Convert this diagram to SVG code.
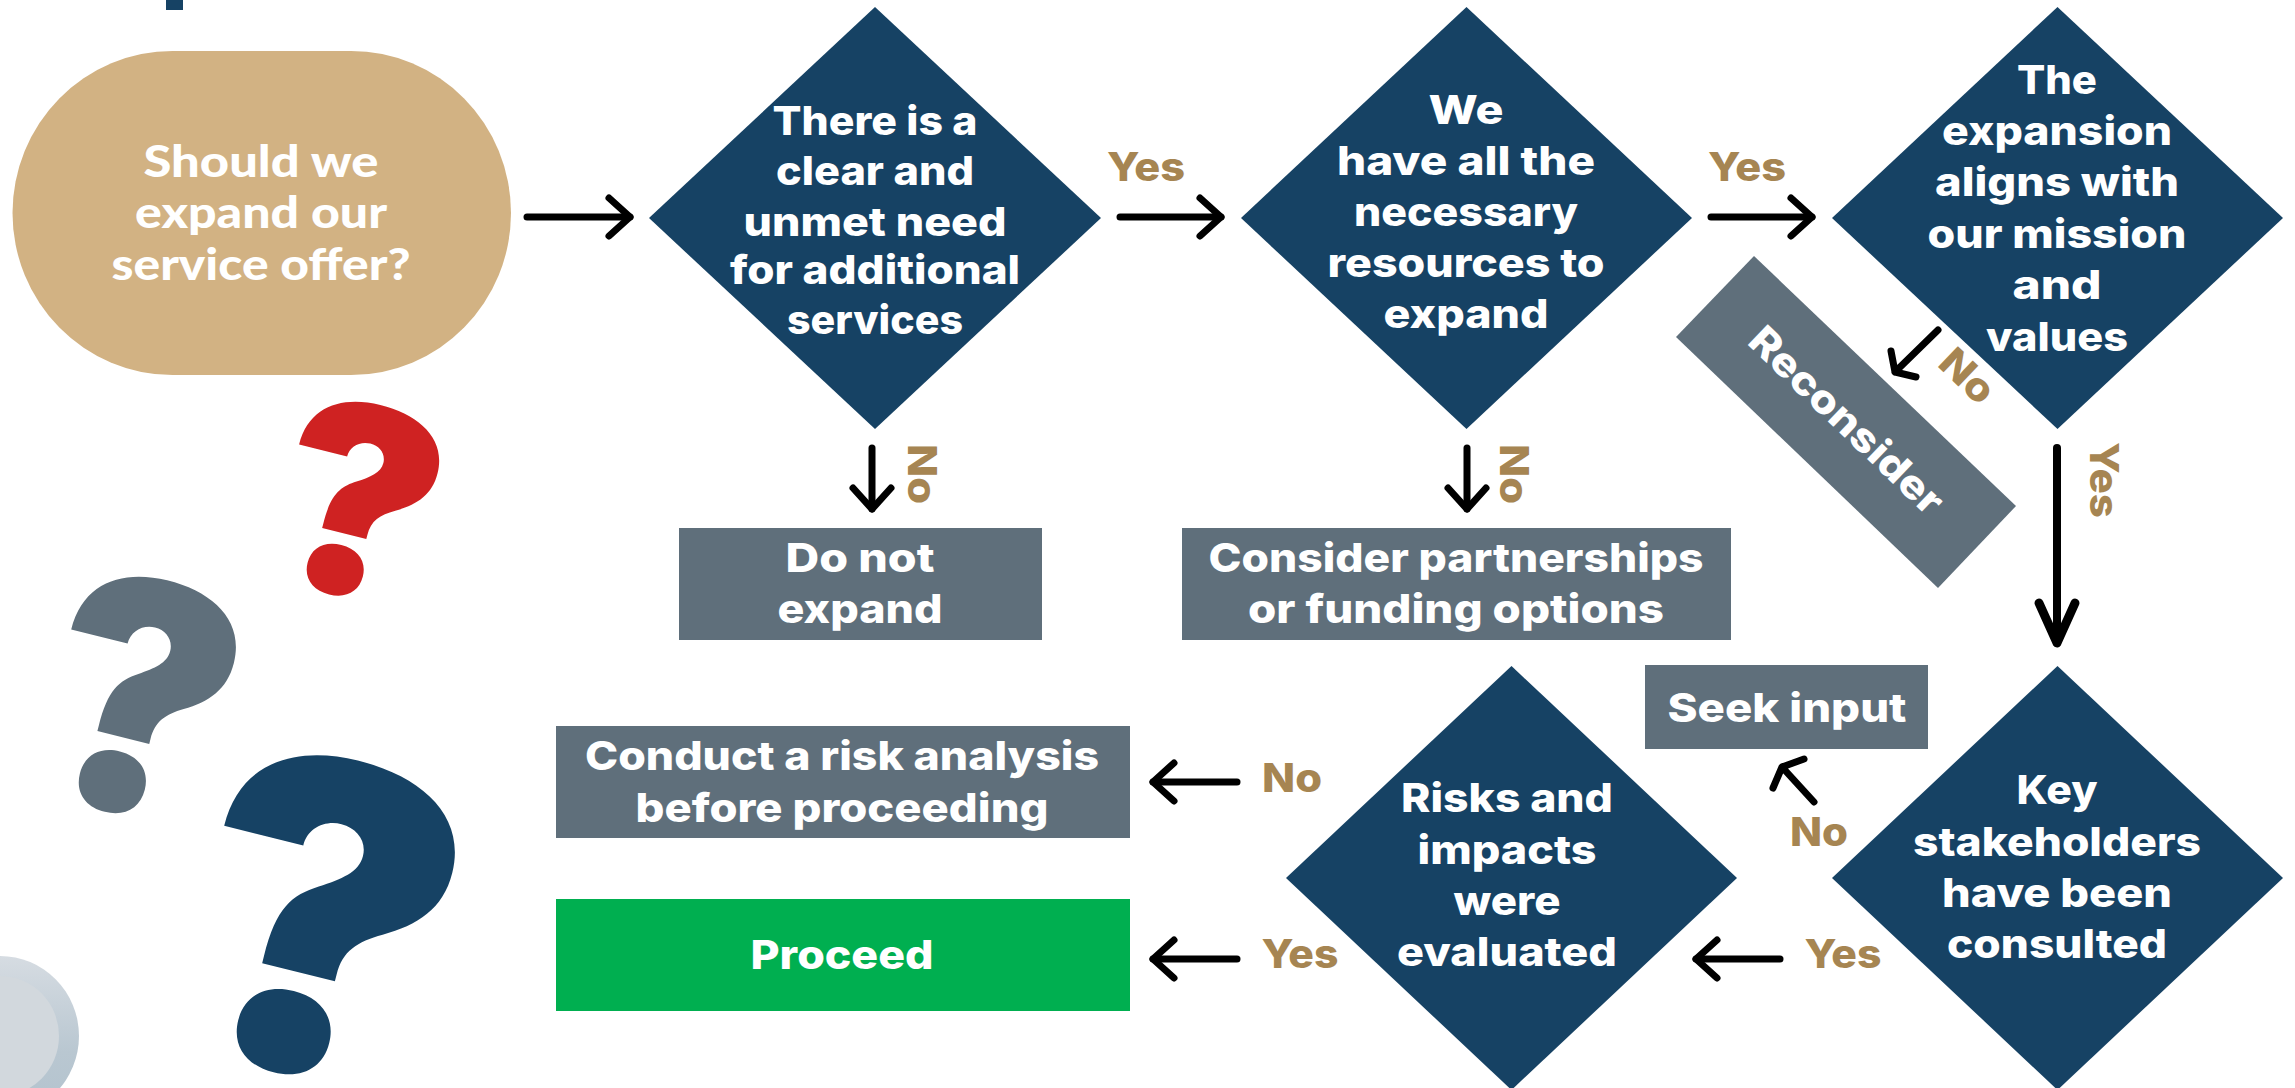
<svg xmlns="http://www.w3.org/2000/svg" width="2295" height="1088" viewBox="0 0 2295 1088">
<style>
text{font-family:"Inter","Liberation Sans",sans-serif;font-weight:800;font-size:39.5px;text-anchor:middle}
.w{fill:#fff}.o{font-family:"Lato","Liberation Sans",sans-serif;font-weight:900;font-size:43px}
.t{fill:#a68552}.dia{fill:#164264}.box{fill:#5f6f7b}
.q{font-family:"Inter","Liberation Sans",sans-serif;font-weight:900}
.c{fill:none;stroke:#000;stroke-width:7;stroke-linecap:round;stroke-linejoin:round}
.mh{fill:none;stroke:#000;stroke-width:7;stroke-linecap:round;stroke-linejoin:round}
</style>
<defs>
<marker id="arr" markerUnits="userSpaceOnUse" viewBox="-45 -30 55 60" markerWidth="55" markerHeight="60" refX="0" refY="0" orient="auto"><path class="mh" d="M-21,-19L0,0L-21,19"/></marker>
<marker id="arr-l" markerUnits="userSpaceOnUse" viewBox="-50 -30 60 60" markerWidth="60" markerHeight="60" refX="0" refY="0" orient="auto"><path class="mh" style="stroke-width:9" d="M-40,-18L0,0L-40,18"/></marker>
<linearGradient id="ring" x1="0" y1="0" x2="0" y2="1"><stop offset="0" stop-color="#d6dce2"/><stop offset=".6" stop-color="#b9c7d1"/><stop offset="1" stop-color="#b3c3ce"/></linearGradient>
</defs>
<rect x="0" width="2295" height="1088" fill="#fff"/>
<rect x="166" y="0" width="17" height="10" fill="#164264"/>
<g id="decor">
<ellipse cx="0" cy="1036" rx="79" ry="80" fill="url(#ring)"/>
<ellipse cx="0" cy="1036" rx="59" ry="60" fill="#d2d8dd"/>
<text class="q" fill="#cf2222" transform="translate(336 593) rotate(14) scale(1.04 1)" style="font-size:262px">?</text>
<text class="q" fill="#5f6f7b" transform="translate(113 810) rotate(14)" style="font-size:320px">?</text>
<text class="q" fill="#164264" transform="translate(285 1070) rotate(14) scale(1.02 .98)" style="font-size:440px">?</text>
</g>
<g id="connectors">
<path class="c" marker-end="url(#arr)" d="M527,217H630"/>
<path class="c" marker-end="url(#arr)" d="M1120,217H1221"/>
<path class="c" marker-end="url(#arr)" d="M1711,217H1812"/>
<path class="c" marker-end="url(#arr)" d="M872,448V509"/>
<path class="c" marker-end="url(#arr)" d="M1467,448V509"/>
<path class="c" style="stroke-width:8" marker-end="url(#arr-l)" d="M2057,448V643"/>
<path class="c" d="M1938,330L1895,372M1891,351L1895,372L1916,377"/>
<path class="c" d="M1814,802L1782,767M1773,788L1782,767L1804,759"/>
<path class="c" marker-end="url(#arr)" d="M1780,959H1696"/>
<path class="c" marker-end="url(#arr)" d="M1237,782H1153"/>
<path class="c" marker-end="url(#arr)" d="M1237,959H1153"/>
</g>
<g id="n-start"><rect x="12.5" y="51" width="498.5" height="324" rx="160" ry="162" fill="#d2b283"/>
<text class="w o" x="261" y="177" textLength="235" lengthAdjust="spacingAndGlyphs">Should we</text>
<text class="w o" x="261" y="228" textLength="252" lengthAdjust="spacingAndGlyphs">expand our</text>
<text class="w o" x="261" y="280" textLength="299" lengthAdjust="spacingAndGlyphs">service offer?</text></g>
<g id="n-need"><polygon class="dia" points="875,7 1101,218 875,429 649,218"/>
<text class="w" x="875" y="135" textLength="205" lengthAdjust="spacingAndGlyphs">There is a</text>
<text class="w" x="875" y="185" textLength="198" lengthAdjust="spacingAndGlyphs">clear and</text>
<text class="w" x="875" y="236" textLength="263" lengthAdjust="spacingAndGlyphs">unmet need</text>
<text class="w" x="875" y="284" textLength="290" lengthAdjust="spacingAndGlyphs">for additional</text>
<text class="w" x="875" y="334" textLength="176" lengthAdjust="spacingAndGlyphs">services</text></g>
<g id="n-resources"><polygon class="dia" points="1466.500,7 1692,218 1466.500,429 1241,218"/>
<text class="w" x="1466" y="124" textLength="75" lengthAdjust="spacingAndGlyphs">We</text>
<text class="w" x="1466" y="175" textLength="258" lengthAdjust="spacingAndGlyphs">have all the</text>
<text class="w" x="1466" y="226" textLength="224" lengthAdjust="spacingAndGlyphs">necessary</text>
<text class="w" x="1466" y="277" textLength="277" lengthAdjust="spacingAndGlyphs">resources to</text>
<text class="w" x="1466" y="328" textLength="165" lengthAdjust="spacingAndGlyphs">expand</text></g>
<g id="n-mission"><polygon class="dia" points="2057.500,7 2283,218 2057.500,429 1832,218"/>
<text class="w" x="2057" y="94" textLength="80" lengthAdjust="spacingAndGlyphs">The</text>
<text class="w" x="2057" y="145" textLength="230" lengthAdjust="spacingAndGlyphs">expansion</text>
<text class="w" x="2057" y="196" textLength="244" lengthAdjust="spacingAndGlyphs">aligns with</text>
<text class="w" x="2057" y="248" textLength="259" lengthAdjust="spacingAndGlyphs">our mission</text>
<text class="w" x="2057" y="299" textLength="89" lengthAdjust="spacingAndGlyphs">and</text>
<text class="w" x="2057" y="351" textLength="142" lengthAdjust="spacingAndGlyphs">values</text></g>
<g id="n-stakeholders"><polygon class="dia" points="2057.500,666 2283,878 2057.500,1090 1832,878"/>
<text class="w" x="2057" y="804" textLength="81" lengthAdjust="spacingAndGlyphs">Key</text>
<text class="w" x="2057" y="856" textLength="288" lengthAdjust="spacingAndGlyphs">stakeholders</text>
<text class="w" x="2057" y="907" textLength="230" lengthAdjust="spacingAndGlyphs">have been</text>
<text class="w" x="2057" y="958" textLength="220" lengthAdjust="spacingAndGlyphs">consulted</text></g>
<g id="n-risks"><polygon class="dia" points="1511.500,666 1737,878 1511.500,1090 1286,878"/>
<text class="w" x="1507" y="812" textLength="212" lengthAdjust="spacingAndGlyphs">Risks and</text>
<text class="w" x="1507" y="864" textLength="179" lengthAdjust="spacingAndGlyphs">impacts</text>
<text class="w" x="1507" y="915" textLength="107" lengthAdjust="spacingAndGlyphs">were</text>
<text class="w" x="1507" y="966" textLength="220" lengthAdjust="spacingAndGlyphs">evaluated</text></g>
<g id="n-donot"><rect class="box" x="679" y="528" width="363" height="112"/>
<text class="w" x="860" y="572" textLength="149" lengthAdjust="spacingAndGlyphs">Do not</text>
<text class="w" x="860" y="623" textLength="165" lengthAdjust="spacingAndGlyphs">expand</text></g>
<g id="n-consider"><rect class="box" x="1182" y="528" width="549" height="112"/>
<text class="w" x="1456" y="572" textLength="495" lengthAdjust="spacingAndGlyphs">Consider partnerships</text>
<text class="w" x="1456" y="623" textLength="416" lengthAdjust="spacingAndGlyphs">or funding options</text></g>
<g id="n-reconsider"><polygon class="box" points="1754,256 2016,506 1938,588 1676,337"/>
<text class="w" transform="translate(1846 421) rotate(43.700)" x="0" y="13" textLength="252" lengthAdjust="spacingAndGlyphs">Reconsider</text></g>
<g id="n-seek"><rect class="box" x="1645" y="665" width="283" height="84"/>
<text class="w" x="1787" y="722" textLength="239" lengthAdjust="spacingAndGlyphs">Seek input</text></g>
<g id="n-riskanalysis"><rect class="box" x="556" y="726" width="574" height="112"/>
<text class="w" x="842" y="770" textLength="514" lengthAdjust="spacingAndGlyphs">Conduct a risk analysis</text>
<text class="w" x="842" y="822" textLength="413" lengthAdjust="spacingAndGlyphs">before proceeding</text></g>
<g id="n-proceed"><rect x="556" y="899" width="574" height="112" fill="#00af50"/>
<text class="w" x="842" y="969" textLength="183" lengthAdjust="spacingAndGlyphs">Proceed</text></g>
<g id="labels">
<text class="t" x="1146" y="181" textLength="78" lengthAdjust="spacingAndGlyphs">Yes</text>
<text class="t" x="1747" y="181" textLength="78" lengthAdjust="spacingAndGlyphs">Yes</text>
<text class="t" transform="translate(908 474) rotate(90)" textLength="60" lengthAdjust="spacingAndGlyphs">No</text>
<text class="t" transform="translate(1500 474) rotate(90)" textLength="60" lengthAdjust="spacingAndGlyphs">No</text>
<text class="t" transform="translate(2090 480) rotate(90)" textLength="76" lengthAdjust="spacingAndGlyphs">Yes</text>
<text class="t" transform="translate(1958 386) rotate(43.700)" textLength="60" lengthAdjust="spacingAndGlyphs">No</text>
<text class="t" x="1819" y="846" textLength="58" lengthAdjust="spacingAndGlyphs">No</text>
<text class="t" x="1843" y="968" textLength="77" lengthAdjust="spacingAndGlyphs">Yes</text>
<text class="t" x="1292" y="792" textLength="60" lengthAdjust="spacingAndGlyphs">No</text>
<text class="t" x="1300" y="968" textLength="77" lengthAdjust="spacingAndGlyphs">Yes</text>
</g>
</svg>
